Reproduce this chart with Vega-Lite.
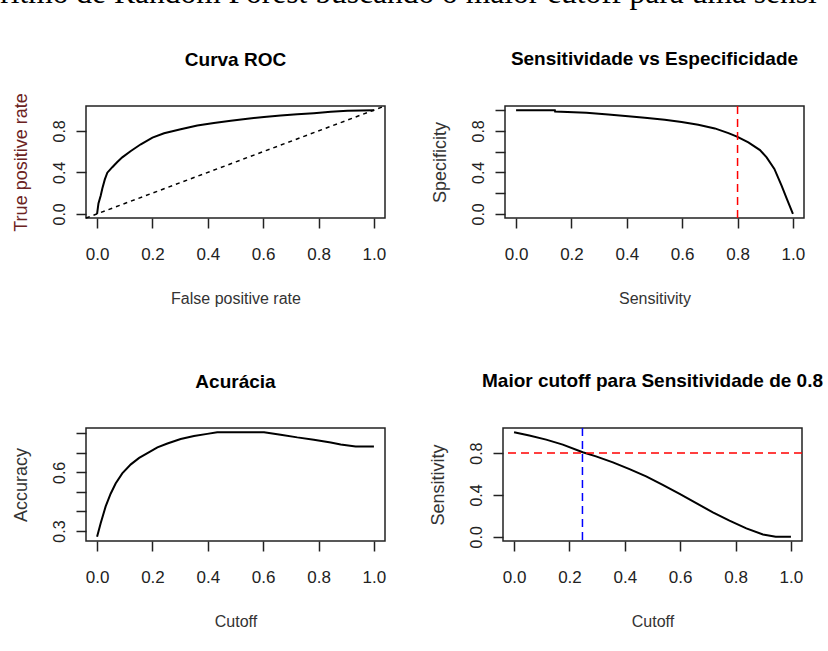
{
  "$schema": "https://vega.github.io/schema/vega-lite/v6.json",
  "padding": {"left": 0, "top": -22, "right": 0, "bottom": 0},
  "background": "white",
  "title": {
    "text": "ritmo de Random Forest buscando o maior cutoff para uma sensi",
    "font": "Liberation Serif",
    "fontSize": 31.5,
    "fontWeight": "normal",
    "anchor": "start",
    "frame": "bounds",
    "offset": 40,
    "dx": -11,
    "color": "black"
  },
  "datasets": {
    "roc": [
      {"fpr": 0, "tpr": 0}, {"fpr": 0.005, "tpr": 0.1}, {"fpr": 0.013, "tpr": 0.175}, {"fpr": 0.019, "tpr": 0.245},
      {"fpr": 0.028, "tpr": 0.332}, {"fpr": 0.037, "tpr": 0.397}, {"fpr": 0.055, "tpr": 0.45},
      {"fpr": 0.073, "tpr": 0.5}, {"fpr": 0.091, "tpr": 0.545}, {"fpr": 0.122, "tpr": 0.606},
      {"fpr": 0.158, "tpr": 0.671}, {"fpr": 0.2, "tpr": 0.735}, {"fpr": 0.242, "tpr": 0.777},
      {"fpr": 0.302, "tpr": 0.816}, {"fpr": 0.362, "tpr": 0.852}, {"fpr": 0.422, "tpr": 0.877},
      {"fpr": 0.483, "tpr": 0.897}, {"fpr": 0.543, "tpr": 0.916}, {"fpr": 0.603, "tpr": 0.935},
      {"fpr": 0.663, "tpr": 0.948}, {"fpr": 0.723, "tpr": 0.961}, {"fpr": 0.783, "tpr": 0.971},
      {"fpr": 0.844, "tpr": 0.984}, {"fpr": 0.904, "tpr": 0.994}, {"fpr": 1, "tpr": 1}
    ],
    "diag": [{"fpr": -0.04, "tpr": -0.04}, {"fpr": 1.04, "tpr": 1.04}],
    "ss": [
      {"sens": 0, "spec": 1}, {"sens": 0.14, "spec": 1}, {"sens": 0.141, "spec": 0.987},
      {"sens": 0.254, "spec": 0.974}, {"sens": 0.333, "spec": 0.958}, {"sens": 0.405, "spec": 0.942},
      {"sens": 0.465, "spec": 0.926}, {"sens": 0.537, "spec": 0.907}, {"sens": 0.598, "spec": 0.885},
      {"sens": 0.658, "spec": 0.859}, {"sens": 0.718, "spec": 0.824}, {"sens": 0.767, "spec": 0.779},
      {"sens": 0.798, "spec": 0.744}, {"sens": 0.839, "spec": 0.689}, {"sens": 0.881, "spec": 0.615},
      {"sens": 0.905, "spec": 0.545}, {"sens": 0.933, "spec": 0.433}, {"sens": 0.959, "spec": 0.272},
      {"sens": 0.978, "spec": 0.144}, {"sens": 1, "spec": 0}
    ],
    "acc": [
      {"cutoff": 0, "accuracy": 0.271}, {"cutoff": 0.013, "accuracy": 0.34}, {"cutoff": 0.031, "accuracy": 0.426},
      {"cutoff": 0.049, "accuracy": 0.491}, {"cutoff": 0.067, "accuracy": 0.543}, {"cutoff": 0.091, "accuracy": 0.595},
      {"cutoff": 0.122, "accuracy": 0.641}, {"cutoff": 0.152, "accuracy": 0.674}, {"cutoff": 0.182, "accuracy": 0.698},
      {"cutoff": 0.218, "accuracy": 0.728}, {"cutoff": 0.254, "accuracy": 0.748}, {"cutoff": 0.302, "accuracy": 0.771},
      {"cutoff": 0.35, "accuracy": 0.786}, {"cutoff": 0.398, "accuracy": 0.797}, {"cutoff": 0.434, "accuracy": 0.805},
      {"cutoff": 0.603, "accuracy": 0.805}, {"cutoff": 0.663, "accuracy": 0.793}, {"cutoff": 0.723, "accuracy": 0.779},
      {"cutoff": 0.783, "accuracy": 0.767}, {"cutoff": 0.844, "accuracy": 0.753}, {"cutoff": 0.88, "accuracy": 0.743},
      {"cutoff": 0.934, "accuracy": 0.733}, {"cutoff": 1, "accuracy": 0.733}
    ],
    "sc": [
      {"cutoff": 0, "sens": 1}, {"cutoff": 0.055, "sens": 0.968}, {"cutoff": 0.116, "sens": 0.929},
      {"cutoff": 0.176, "sens": 0.881}, {"cutoff": 0.248, "sens": 0.808}, {"cutoff": 0.296, "sens": 0.769},
      {"cutoff": 0.357, "sens": 0.712}, {"cutoff": 0.417, "sens": 0.647}, {"cutoff": 0.477, "sens": 0.577},
      {"cutoff": 0.537, "sens": 0.497}, {"cutoff": 0.598, "sens": 0.41}, {"cutoff": 0.658, "sens": 0.321},
      {"cutoff": 0.718, "sens": 0.234}, {"cutoff": 0.778, "sens": 0.154}, {"cutoff": 0.839, "sens": 0.08},
      {"cutoff": 0.899, "sens": 0.022}, {"cutoff": 0.935, "sens": 0.006}, {"cutoff": 0.945, "sens": 0},
      {"cutoff": 1, "sens": 0}
    ]
  },
  "vconcat": [
    {
      "hconcat": [
        {
          "width": 299, "height": 112,
          "title": {"text": "Curva ROC", "offset": 22.5},
          "layer": [
            {
              "data": {"name": "diag"},
              "mark": {"type": "line", "color": "black", "strokeWidth": 1.5, "strokeDash": [4, 4]},
              "encoding": {
                "x": {"field": "fpr", "type": "quantitative", "scale": {"domain": [-0.04, 1.04], "nice": false, "zero": false},
                  "axis": {"title": "False positive rate", "values": [0, 0.2, 0.4, 0.6, 0.8, 1]}},
                "y": {"field": "tpr", "type": "quantitative", "scale": {"domain": [-0.04, 1.04], "nice": false, "zero": false},
                  "axis": {"title": "True positive rate", "titleColor": "#6b2222", "values": [0, 0.2, 0.4, 0.6, 0.8, 1]}}
              }
            },
            {
              "data": {"name": "roc"},
              "mark": {"type": "line", "color": "black", "strokeWidth": 2},
              "encoding": {
                "x": {"field": "fpr", "type": "quantitative"},
                "y": {"field": "tpr", "type": "quantitative"}
              }
            }
          ]
        },
        {
          "width": 299, "height": 112,
          "title": "Sensitividade vs Especificidade",
          "layer": [
            {
              "data": {"name": "ss"},
              "mark": {"type": "line", "color": "black", "strokeWidth": 2},
              "encoding": {
                "x": {"field": "sens", "type": "quantitative", "scale": {"domain": [-0.04, 1.04], "nice": false, "zero": false},
                  "axis": {"title": "Sensitivity", "values": [0, 0.2, 0.4, 0.6, 0.8, 1]}},
                "y": {"field": "spec", "type": "quantitative", "scale": {"domain": [-0.04, 1.04], "nice": false, "zero": false},
                  "axis": {"title": "Specificity", "values": [0, 0.2, 0.4, 0.6, 0.8, 1]}}
              }
            },
            {
              "data": {"values": [{"sens": 0.8}]},
              "mark": {"type": "rule", "color": "#ff0000", "strokeWidth": 1.5, "strokeDash": [8, 5]},
              "encoding": {"x": {"field": "sens", "type": "quantitative"}}
            }
          ]
        }
      ],
      "spacing": 41
    },
    {
      "hconcat": [
        {
          "width": 299, "height": 113,
          "title": "Acurácia",
          "layer": [
            {
              "data": {"name": "acc"},
              "mark": {"type": "line", "color": "black", "strokeWidth": 2},
              "encoding": {
                "x": {"field": "cutoff", "type": "quantitative", "scale": {"domain": [-0.04, 1.04], "nice": false, "zero": false},
                  "axis": {"title": "Cutoff", "values": [0, 0.2, 0.4, 0.6, 0.8, 1]}},
                "y": {"field": "accuracy", "type": "quantitative", "scale": {"domain": [0.249, 0.827], "nice": false, "zero": false},
                  "axis": {"title": "Accuracy", "values": [0.3, 0.4, 0.5, 0.6, 0.7, 0.8], "labelExpr": "round(datum.value*10) % 3 == 0 ? format(datum.value, '.1f') : ''"}}
              }
            }
          ]
        },
        {
          "width": 299, "height": 113,
          "title": "Maior cutoff para Sensitividade de 0.8",
          "layer": [
            {
              "data": {"name": "sc"},
              "mark": {"type": "line", "color": "black", "strokeWidth": 2},
              "encoding": {
                "x": {"field": "cutoff", "type": "quantitative", "scale": {"domain": [-0.04, 1.04], "nice": false, "zero": false},
                  "axis": {"title": "Cutoff", "values": [0, 0.2, 0.4, 0.6, 0.8, 1]}},
                "y": {"field": "sens", "type": "quantitative", "scale": {"domain": [-0.04, 1.04], "nice": false, "zero": false},
                  "axis": {"title": "Sensitivity", "values": [0, 0.2, 0.4, 0.6, 0.8, 1]}}
              }
            },
            {
              "data": {"values": [{"sens": 0.8}]},
              "mark": {"type": "rule", "color": "#ff0000", "strokeWidth": 1.5, "strokeDash": [8, 5]},
              "encoding": {"y": {"field": "sens", "type": "quantitative"}}
            },
            {
              "data": {"values": [{"cutoff": 0.247}]},
              "mark": {"type": "rule", "color": "#0000ff", "strokeWidth": 1.5, "strokeDash": [8, 5]},
              "encoding": {"x": {"field": "cutoff", "type": "quantitative"}}
            }
          ]
        }
      ],
      "spacing": 41
    }
  ],
  "spacing": 64,
  "config": {
    "font": "Liberation Sans",
    "view": {"stroke": "#222222", "strokeWidth": 1.5},
    "title": {"font": "Liberation Sans", "fontSize": 19, "fontWeight": "bold", "color": "black", "offset": 36, "frame": "group"},
    "axis": {
      "domain": false, "grid": false, "ticks": true, "tickColor": "#222222", "tickWidth": 1.5, "tickSize": 10,
      "labelFont": "Liberation Sans", "labelColor": "#222222",
      "titleFont": "Liberation Sans", "titleFontWeight": "normal", "titleColor": "#333333",
      "labelFlush": false, "labelOverlap": false
    },
    "axisX": {"format": ".1f", "labelFontSize": 17, "titleFontSize": 16, "labelPadding": 18, "titlePadding": 28},
    "axisY": {
      "labelExpr": "round(datum.value*10) % 4 == 0 ? format(datum.value, '.1f') : ''",
      "labelFontSize": 16, "titleFontSize": 18,
      "labelAngle": -90, "labelAlign": "center", "labelBaseline": "alphabetic", "labelPadding": 12, "titlePadding": 21
    }
  }
}
